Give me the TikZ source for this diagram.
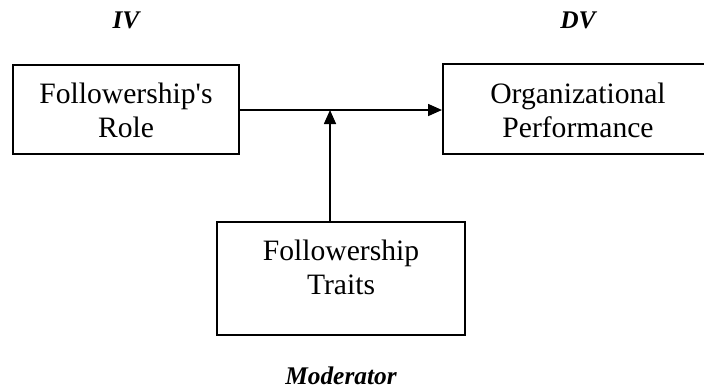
\documentclass[tikz,border=0pt]{standalone}
\usepackage{fontspec}
\setmainfont{Liberation Serif}
\usetikzlibrary{arrows.meta}
\begin{document}
\begin{tikzpicture}[x=1pt,y=1pt,
  box/.style={draw=black, line width=1pt, inner sep=0pt},
  txt/.style={align=center, inner sep=0pt, font=\fontsize{14.8}{17}\selectfont},
  lbl/.style={inner sep=0pt, anchor=base, font=\fontsize{12.7}{15}\selectfont\bfseries\itshape},
  conn/.style={line width=0.8pt, -{Triangle[length=7pt,width=6pt]}}]
\useasboundingbox (0,0) rectangle (352,-193.5);
% boxes
\node[box, minimum width=113pt, minimum height=44.5pt] (role) at (63,-54.75) {};
\node[box, minimum width=135pt, minimum height=45pt] (perf) at (289,-54.5) {};
\node[box, minimum width=124pt, minimum height=56.5pt] (trait) at (170.5,-139.25) {};
% box texts
\node[txt, anchor=base] (roletxt) at (63,-68.5) {Followership\textquotesingle s\\Role};
\node[txt, anchor=base] (perftxt) at (289,-68.5) {Organizational\\Performance};
\node[txt, anchor=base] (traittxt) at (170.5,-147) {Followership\\Traits};
% labels
\node[lbl] (iv) at (63,-14) {IV};
\node[lbl] (dv) at (289,-14) {DV};
\node[lbl] (mod) at (170.5,-192) {Moderator};
% connectors
\draw[conn] (role.east |- 0,-55) -- (perf.west |- 0,-55);
\coordinate (meet) at (165,-55);
\draw[conn] (trait.north -| meet) -- (meet);
\end{tikzpicture}
\end{document}
